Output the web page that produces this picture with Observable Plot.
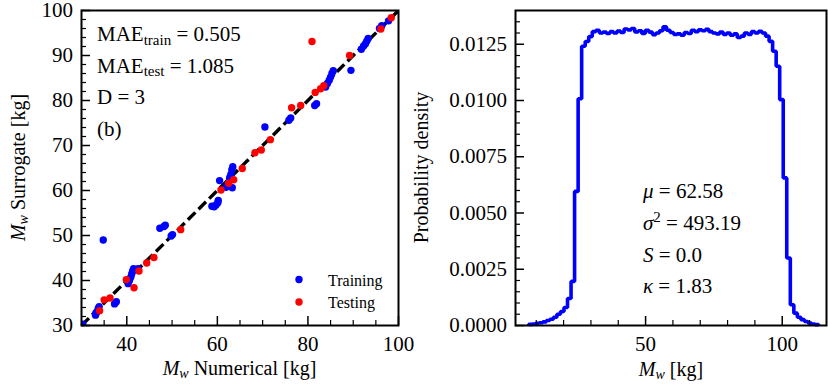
<!DOCTYPE html>
<html><head><meta charset="utf-8">
<script src="https://cdn.jsdelivr.net/npm/d3@7"></script>
<script src="https://cdn.jsdelivr.net/npm/@observablehq/plot@0.6"></script>
<style>
html,body{margin:0;padding:0;background:#fff;}
#root{position:relative;width:828px;height:387px;overflow:hidden;background:#fff;}
#root svg{position:absolute;top:0;}
</style></head><body><div id="root"></div>
<script>
// ---------- Left panel data (surrogate vs numerical) ----------
const trainX = [30.3, 33.1, 33.4, 33.7, 33.9, 33.2, 34.8, 37.3, 37.7, 40.3, 40.6, 40.9, 41.1, 41.3, 41.5, 42.5,
  47.3, 48.2, 48.5, 49.8, 50.1, 58.8, 59.3, 59.7, 60.1, 60.2, 60.5, 61.9, 62.4, 62.7, 63.0, 63.2, 63.4, 63.3, 62.8,
  70.5, 75.8, 76.2, 81.5, 81.9, 83.9, 84.3, 84.7, 85.0, 85.3, 85.6, 89.5, 91.8, 92.3, 92.7, 93.0, 93.3, 95.8, 96.3, 97.8];
const trainY = [30.3, 32.3, 33.0, 33.8, 34.2, 32.8, 49.0, 34.8, 35.3, 39.3, 40.0, 40.8, 41.5, 42.1, 42.6, 42.6,
  51.6, 52.0, 52.3, 49.9, 50.2, 56.5, 56.4, 56.8, 57.3, 57.8, 62.2, 60.7, 61.5, 62.6, 63.6, 64.6, 65.3, 60.6, 63.0,
  74.1, 75.6, 76.1, 78.9, 79.3, 83.0, 83.8, 84.5, 85.2, 86.0, 86.6, 86.7, 91.4, 92.1, 92.6, 93.2, 93.8, 96.0, 96.6, 97.7];
const testX = [34.0, 35.0, 36.3, 39.9, 41.6, 42.7, 44.4, 46.0, 51.9, 60.8, 62.5, 63.6, 65.5, 68.3, 69.7, 71.7,
  76.4, 78.4, 80.9, 81.6, 82.8, 83.5, 89.2, 96.1, 98.4];
const testY = [33.3, 35.7, 36.1, 40.2, 38.4, 42.1, 43.9, 45.1, 51.3, 60.1, 61.6, 62.4, 64.9, 68.4, 69.0, 71.3,
  78.4, 78.9, 93.1, 81.8, 82.6, 83.3, 90.0, 95.9, 98.4];
const diagLine = [30, 100];
const leftXMajor = [40, 60, 80, 100];
const leftXMinor = [35, 45, 50, 55, 65, 70, 75, 85, 90, 95];
const leftYMajor = [30, 40, 50, 60, 70, 80, 90, 100];
const leftYMinor = [32, 34, 36, 38, 42, 44, 46, 48, 52, 54, 56, 58, 62, 64, 66, 68, 72, 74, 76, 78, 82, 84, 86, 88, 92, 94, 96, 98];

// ---------- Right panel data (histogram of M_w) ----------
const binEdges = [7.20, 8.49, 9.79, 11.08, 12.38, 13.67, 14.96, 16.26, 17.55, 18.85, 20.14, 21.43, 22.73, 24.02,
  25.32, 26.61, 27.90, 29.20, 30.49, 31.79, 33.08, 34.37, 35.67, 36.96, 38.26, 39.55, 40.84, 42.14, 43.43, 44.73,
  46.02, 47.31, 48.61, 49.90, 51.20, 52.49, 53.78, 55.08, 56.37, 57.67, 58.96, 60.25, 61.55, 62.84, 64.14, 65.43,
  66.72, 68.02, 69.31, 70.61, 71.90, 73.19, 74.49, 75.78, 77.08, 78.37, 79.66, 80.96, 82.25, 83.55, 84.84, 86.13,
  87.43, 88.72, 90.02, 91.31, 92.60, 93.90, 95.19, 96.49, 97.78, 99.07, 100.37, 101.66, 102.96, 104.25, 105.54,
  106.84, 108.13, 109.43, 110.72, 112.01, 113.31];
const density = [0.00005, 0.00007, 0.00010, 0.00012, 0.00016, 0.00022, 0.00028, 0.00037, 0.00050, 0.00062,
  0.00080, 0.00120, 0.00196, 0.00596, 0.01008, 0.01241, 0.01262, 0.01284,
  0.01306, 0.01312, 0.01300, 0.01304, 0.01298, 0.01306, 0.01300, 0.01309, 0.01302, 0.01318,
  0.01314, 0.01320, 0.01305, 0.01310, 0.01298, 0.01312, 0.01304, 0.01293, 0.01300, 0.01310,
  0.01328, 0.01312, 0.01302, 0.01294, 0.01296, 0.01290, 0.01302, 0.01298, 0.01312, 0.01306,
  0.01314, 0.01310, 0.01316, 0.01306, 0.01300, 0.01296, 0.01304, 0.01294, 0.01300, 0.01290,
  0.01296, 0.01280, 0.01286, 0.01300, 0.01294, 0.01306, 0.01300, 0.01308,
  0.01300, 0.01286, 0.01263, 0.01219, 0.01152, 0.01004, 0.00656, 0.00300,
  0.00092, 0.00055, 0.00037, 0.00026, 0.00018, 0.00011, 0.00007, 0.00004];
const rightXMajor = [50, 100];
const rightXMinor = [10, 20, 30, 40, 60, 70, 80, 90, 110];
const rightYMajor = [0, 0.0025, 0.005, 0.0075, 0.01, 0.0125];
const rightYMinor = [0.0005, 0.001, 0.0015, 0.002, 0.003, 0.0035, 0.004, 0.0045, 0.0055, 0.006, 0.0065, 0.007,
  0.008, 0.0085, 0.009, 0.0095, 0.0105, 0.011, 0.0115, 0.012, 0.013, 0.0135];

// ---------- build ----------
const FONT = "Liberation Serif, Times New Roman, serif";
const root = document.getElementById("root");
const train = trainX.map((x, i) => ({x, y: trainY[i]}));
const test = testX.map((x, i) => ({x, y: testY[i]}));
const histPts = [{x: binEdges[0], y: 0}]
  .concat(density.map((v, i) => ({x: binEdges[i], y: v})))
  .concat([{x: binEdges[density.length], y: density[density.length - 1]}, {x: binEdges[density.length], y: 0}]);

function axes(xMajor, xMinor, yMajor, yMinor, yFmt) {
  return [
    Plot.axisX({ticks: xMajor, tickSize: 0, tickPadding: 10.5, tickFormat: d => String(d), label: null}),
    Plot.axisX({ticks: xMajor, tickSize: -9, fill: "none", label: null, strokeWidth: 1.5}),
    Plot.axisX({ticks: xMinor, tickSize: -5, fill: "none", label: null, strokeWidth: 1.2}),
    Plot.axisY({ticks: yMajor, tickSize: 0, tickPadding: 8.5, tickFormat: yFmt, label: null}),
    Plot.axisY({ticks: yMajor, tickSize: -9, fill: "none", label: null, strokeWidth: 1.5}),
    Plot.axisY({ticks: yMinor, tickSize: -5, fill: "none", label: null, strokeWidth: 1.2})
  ];
}
const style = {background: "transparent", overflow: "visible", fontFamily: FONT, fontSize: "21px", color: "black"};

const left = Plot.plot({
  width: 420, height: 387, marginLeft: 81, marginRight: 22, marginTop: 10, marginBottom: 62,
  style,
  x: {domain: [30, 100]},
  y: {domain: [30, 100]},
  marks: [
    Plot.line(diagLine, {x: d => d, y: d => d, stroke: "black", strokeWidth: 3.4, strokeDasharray: "10.5,4.5", strokeLinecap: "butt"}),
    Plot.dot(train, {x: "x", y: "y", r: 3.7, fill: "#0000ff", clip: true}),
    Plot.dot(test, {x: "x", y: "y", r: 3.7, fill: "#ff0000", clip: true}),
    ...axes(leftXMajor, leftXMinor, leftYMajor, leftYMinor, d => String(d)),
    Plot.frame({stroke: "black", strokeWidth: 2})
  ]
});
left.style.left = "0px";
root.appendChild(left);

const right = Plot.plot({
  width: 418, height: 387, marginLeft: 105, marginRight: 2, marginTop: 10, marginBottom: 62,
  style,
  x: {domain: [2.4, 116.2]},
  y: {domain: [0, 0.0140]},
  marks: [
    Plot.line(histPts, {x: "x", y: "y", curve: "step-after", stroke: "#0000ff", strokeWidth: 3.6, strokeLinejoin: "miter", strokeLinecap: "butt"}),
    ...axes(rightXMajor, rightXMinor, rightYMajor, rightYMinor, d3.format(".4f")),
    Plot.frame({stroke: "black", strokeWidth: 2})
  ]
});
right.style.left = "410px";
root.appendChild(right);

// ---------- overlay: axis titles, annotations, legend ----------
const ov = d3.select(root).append("svg")
  .attr("width", 828).attr("height", 387)
  .style("left", "0px").style("overflow", "visible")
  .style("font-family", FONT).attr("font-size", 20).attr("fill", "black");

function mw(sel) {
  sel.append("tspan").attr("font-style", "italic").text("M");
  sel.append("tspan").attr("font-style", "italic").attr("font-size", 14).attr("dy", 3).text("w");
}
// x titles
let t = ov.append("text").attr("x", 239.5).attr("y", 375).attr("text-anchor", "middle");
mw(t); t.append("tspan").attr("dy", -3).text(" Numerical [kg]");
t = ov.append("text").attr("x", 671).attr("y", 376).attr("text-anchor", "middle");
mw(t); t.append("tspan").attr("dy", -3).text(" [kg]");
// y titles
t = ov.append("text").attr("transform", "translate(25,167.5) rotate(-90)").attr("text-anchor", "middle");
mw(t); t.append("tspan").attr("dy", -3).text(" Surrogate [kg]");
ov.append("text").attr("transform", "translate(428,167.5) rotate(-90)").attr("text-anchor", "middle").text("Probability density");

// left annotations
const ann = ov.append("g").attr("font-size", 21);
t = ann.append("text").attr("x", 97).attr("y", 41);
t.append("tspan").text("MAE");
t.append("tspan").attr("font-size", 15).attr("dy", 3.5).text("train");
t.append("tspan").attr("dy", -3.5).text(" = 0.505");
t = ann.append("text").attr("x", 97).attr("y", 72.5);
t.append("tspan").text("MAE");
t.append("tspan").attr("font-size", 15).attr("dy", 3.5).text("test");
t.append("tspan").attr("dy", -3.5).text(" = 1.085");
ann.append("text").attr("x", 97).attr("y", 104).text("D = 3");
ann.append("text").attr("x", 97).attr("y", 135.5).text("(b)");

// right annotations
t = ann.append("text").attr("x", 643).attr("y", 198);
t.append("tspan").attr("font-style", "italic").text("μ");
t.append("tspan").text(" = 62.58");
t = ann.append("text").attr("x", 643).attr("y", 230);
t.append("tspan").attr("font-style", "italic").text("σ");
t.append("tspan").attr("font-size", 15).attr("dy", -8).text("2");
t.append("tspan").attr("dy", 8).text(" = 493.19");
t = ann.append("text").attr("x", 643).attr("y", 261.5);
t.append("tspan").attr("font-style", "italic").text("S");
t.append("tspan").text(" = 0.0");
t = ann.append("text").attr("x", 643).attr("y", 293);
t.append("tspan").attr("font-style", "italic").text("κ");
t.append("tspan").text(" = 1.83");

// legend
const legend = [{name: "Training", color: "#0000ff"}, {name: "Testing", color: "#ff0000"}];
legend.forEach((d, i) => {
  ov.append("circle").attr("cx", 299).attr("cy", 279.5 + i * 22.5).attr("r", 3.7).attr("fill", d.color);
  ov.append("text").attr("x", 328).attr("y", 285.5 + i * 22.5).attr("font-size", 16).text(d.name);
});
</script></body></html>
